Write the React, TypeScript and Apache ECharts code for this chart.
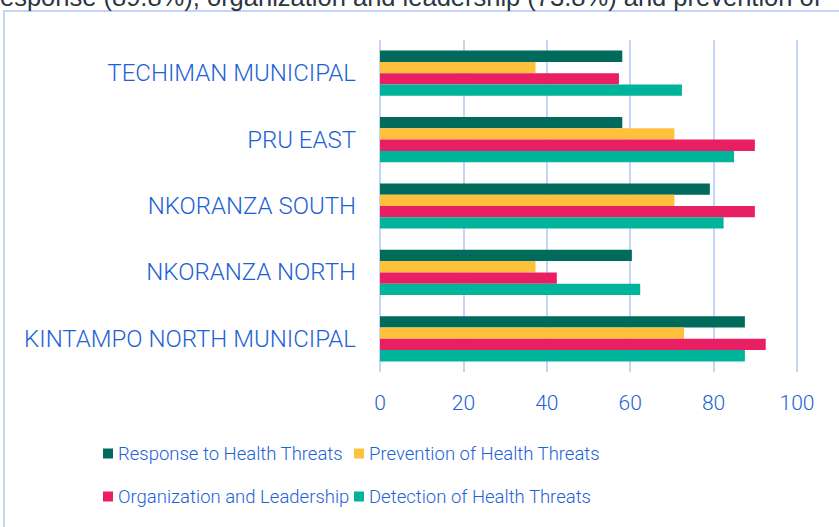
import React, { useEffect, useRef } from "react";
import * as echarts from "echarts";

const categories = [
  "KINTAMPO NORTH MUNICIPAL",
  "NKORANZA NORTH",
  "NKORANZA SOUTH",
  "PRU EAST",
  "TECHIMAN MUNICIPAL",
];
const responseValues = [87.5, 60.4, 79.1, 58.1, 58.1];
const preventionValues = [72.9, 37.3, 70.6, 70.6, 37.3];
const organizationValues = [92.5, 42.4, 89.9, 89.9, 57.3];
const detectionValues = [87.5, 62.4, 82.4, 84.9, 72.4];
const xTicks = [0, 20, 40, 60, 80, 100];

const seriesNames = [
  "Response to Health Threats",
  "Prevention of Health Threats",
  "Organization and Leadership",
  "Detection of Health Threats",
];
const colors = ["#006a5b", "#ffc13b", "#e91f63", "#00b39b"];
const textBlue = "#1e62d6";
const font = "Roboto, 'Noto Sans', sans-serif";

export default function App() {
  const ref = useRef<HTMLDivElement>(null);
  useEffect(() => {
    if (!ref.current) return;
    const chart = echarts.init(ref.current, undefined, { renderer: "svg" });
    const valuesBySeries = [responseValues, preventionValues, organizationValues, detectionValues];
    const legendPos = [
      { left: 103, top: 444 },
      { left: 354, top: 444 },
      { left: 103, top: 487 },
      { left: 354, top: 487 },
    ];
    chart.setOption({
      animation: false,
      grid: { left: 380, right: 42, top: 40, bottom: 155, containLabel: false },
      xAxis: {
        type: "value",
        min: 0,
        max: 100,
        interval: 20,
        axisLine: { show: false },
        axisTick: { show: false },
        splitLine: { show: true, lineStyle: { color: "#c3d6f7", width: 2 } },
        axisLabel: {
          color: textBlue,
          fontSize: 21,
          fontWeight: 300,
          fontFamily: font,
          margin: 20,
          formatter: (v: number) => (xTicks.includes(v) ? String(v) : ""),
        },
      },
      yAxis: {
        type: "category",
        data: categories,
        axisLine: { show: false },
        axisTick: { show: false },
        axisLabel: { color: textBlue, fontSize: 24, fontWeight: 300, fontFamily: font, margin: 24 },
      },
      legend: legendPos.map((p, i) => ({
        left: p.left,
        top: p.top,
        data: [seriesNames[i]],
        icon: "rect",
        itemWidth: 10,
        itemHeight: 10,
        itemGap: 0,
        padding: 0,
        textStyle: {
          color: textBlue,
          fontSize: 18.5,
          fontWeight: 300,
          fontFamily: font,
          padding: [0, 0, 0, 0],
        },
      })),
      graphic: [
        {
          type: "text",
          x: 0,
          y: -3,
          style: {
            text: "esponse (89.8%), organization and leadership (73.8%) and prevention of",
            fill: "#2b3646",
            fontSize: 25.5,
            fontFamily: "'Liberation Sans', Arial, sans-serif",
            verticalAlign: "middle",
          },
        },
        {
          type: "rect",
          shape: { x: 4, y: 11, width: 900, height: 600 },
          style: { fill: "none", stroke: "#c3d6f7", lineWidth: 2 },
          z: -1,
        },
      ],
      series: [0, 1, 2, 3].map((i) => ({
        type: "bar",
        name: seriesNames[i],
        data: valuesBySeries[i],
        itemStyle: { color: colors[i] },
        barGap: "0%",
        barCategoryGap: "32%",
      })),
    });
    return () => chart.dispose();
  }, []);
  return <div ref={ref} style={{ width: 839, height: 527, position: "absolute", left: 0, top: 0 }} />;
}
